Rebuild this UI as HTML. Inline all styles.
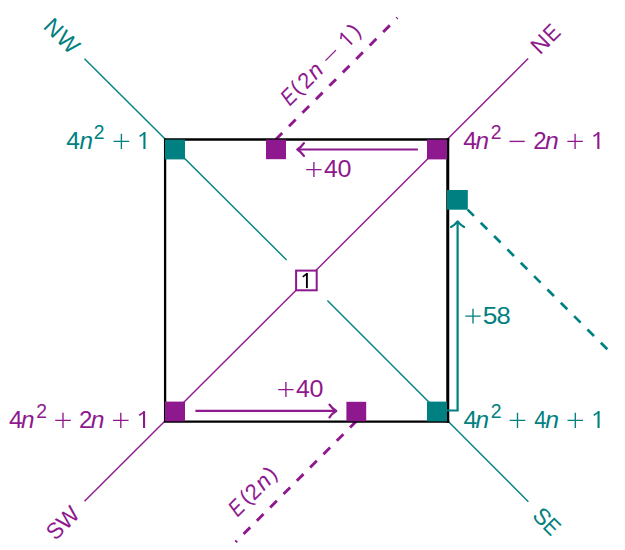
<!DOCTYPE html>
<html><head><meta charset="utf-8">
<style>
html,body{margin:0;padding:0;background:#fff;width:625px;height:550px;overflow:hidden}
svg{display:block}
text{font-family:"Liberation Sans",sans-serif}
</style></head><body>
<svg width="625" height="550" viewBox="0 0 625 550">
<!-- dashed lines -->
<path d="M276 139.2 L397.4 17.8" stroke="#8e198e" stroke-width="2.9" stroke-dasharray="9.4 9.62" stroke-dashoffset="0.6" fill="none"/>
<path d="M356.3 421.3 L235.6 542" stroke="#8e198e" stroke-width="2.9" stroke-dasharray="9.4 9.43" stroke-dashoffset="0.6" fill="none"/>
<path d="M467.6 209.6 L609 351" stroke="#008080" stroke-width="2.7" stroke-dasharray="9.2 9.67" stroke-dashoffset="0.3" fill="none"/>

<!-- diagonals -->
<line x1="84.5" y1="58.7" x2="286.6" y2="260" stroke="#008080" stroke-width="1.4"/>
<line x1="327.4" y1="300.5" x2="528.4" y2="501.7" stroke="#008080" stroke-width="1.4"/>
<line x1="84.5" y1="501.3" x2="528.2" y2="58.6" stroke="#8e198e" stroke-width="1.4"/>

<!-- square -->
<path d="M163.95 139.5H449.25M163.95 421.6H449.25M165.1 138.35V422.75" stroke="#000" stroke-width="2.3" fill="none"/>
<path d="M447.75 138.35V422.75" stroke="#000" stroke-width="3" fill="none"/>

<!-- markers -->
<rect x="165" y="139.6" width="20" height="19.8" fill="#008080"/>
<rect x="427" y="139.6" width="20" height="19.8" fill="#8e198e"/>
<rect x="165" y="401.6" width="20" height="19.7" fill="#8e198e"/>
<rect x="427" y="401.6" width="20" height="19.7" fill="#008080"/>
<rect x="266" y="139.6" width="20" height="19.6" fill="#8e198e"/>
<rect x="346.4" y="401.8" width="19.8" height="19.5" fill="#8e198e"/>
<rect x="447" y="190" width="20.8" height="19.7" fill="#008080"/>

<!-- center box -->
<rect x="296.1" y="270.6" width="20.6" height="19.7" fill="#fff" stroke="#8e198e" stroke-width="2"/>
<path d="M306.9 273V288.1" stroke="#000" stroke-width="1.9" fill="none"/><path d="M302.8 276.9L307.2 273.4" stroke="#000" stroke-width="1.6" fill="none"/>

<!-- arrows -->
<path d="M417.9 149.5 H298" stroke="#8e198e" stroke-width="2.2" fill="none"/>
<path d="M303.9 143.1 Q301.2 147.2 297.3 149.5 Q301.2 151.8 303.9 155.9" stroke="#8e198e" stroke-width="2.3" stroke-linecap="round" stroke-linejoin="round" fill="none"/>
<path d="M195.4 410.9 H335" stroke="#8e198e" stroke-width="2.2" fill="none"/>
<path d="M329.5 404.6 Q332.2 408.7 336.3 410.9 Q332.2 413.1 329.5 417.3" stroke="#8e198e" stroke-width="2.3" stroke-linecap="round" stroke-linejoin="round" fill="none"/>
<path d="M447 410.5 H457.6 V223" stroke="#008080" stroke-width="2.2" fill="none"/>
<path d="M451.1 226.9 Q455.3 224.7 457.6 221.4 Q459.9 224.7 464.1 226.9" stroke="#008080" stroke-width="2.3" stroke-linecap="round" stroke-linejoin="round" fill="none"/>

<text transform="translate(66.90 149.00) scale(1.004 1)" x="-0.56" font-size="24.5" fill="#008080">4</text>
<text transform="translate(79.90 149.00) scale(0.991 1)" x="-0.41" font-size="24.5" fill="#008080" font-style="italic">n</text>
<text transform="translate(94.70 138.90) scale(0.966 1)" x="-1.01" font-size="20" fill="#008080">2</text>
<path d="M113.60 141.40H129.20M121.40 133.80V149.00" stroke="#008080" stroke-width="1.35" fill="none"/>
<path d="M144.45 132.20V149.00" stroke="#008080" stroke-width="2.1" fill="none"/>
<path d="M139.60 136.40L145.08 132.60" stroke="#008080" stroke-width="1.68" fill="none"/>
<text transform="translate(463.80 149.00) scale(1.004 1)" x="-0.56" font-size="24.5" fill="#8e198e">4</text>
<text transform="translate(475.80 149.00) scale(0.991 1)" x="-0.41" font-size="24.5" fill="#8e198e" font-style="italic">n</text>
<text transform="translate(491.60 138.90) scale(0.966 1)" x="-1.01" font-size="20" fill="#8e198e">2</text>
<path d="M509.50 141.40H524.80" stroke="#8e198e" stroke-width="1.35" fill="none"/>
<text transform="translate(534.50 149.00) scale(0.986 1)" x="-1.23" font-size="24.5" fill="#8e198e">2</text>
<text transform="translate(545.40 149.00) scale(1.008 1)" x="-0.41" font-size="24.5" fill="#8e198e" font-style="italic">n</text>
<path d="M567.30 141.40H582.90M575.10 133.80V149.00" stroke="#8e198e" stroke-width="1.35" fill="none"/>
<path d="M598.35 132.20V149.00" stroke="#8e198e" stroke-width="2.1" fill="none"/>
<path d="M593.50 136.40L598.98 132.60" stroke="#8e198e" stroke-width="1.68" fill="none"/>
<text transform="translate(9.50 428.00) scale(1.004 1)" x="-0.56" font-size="24.5" fill="#8e198e">4</text>
<text transform="translate(21.50 428.00) scale(0.991 1)" x="-0.41" font-size="24.5" fill="#8e198e" font-style="italic">n</text>
<text transform="translate(37.30 417.90) scale(0.966 1)" x="-1.01" font-size="20" fill="#8e198e">2</text>
<path d="M55.20 420.40H70.80M63.00 412.80V428.00" stroke="#8e198e" stroke-width="1.35" fill="none"/>
<text transform="translate(80.20 428.00) scale(0.986 1)" x="-1.23" font-size="24.5" fill="#8e198e">2</text>
<text transform="translate(91.10 428.00) scale(1.008 1)" x="-0.41" font-size="24.5" fill="#8e198e" font-style="italic">n</text>
<path d="M113.00 420.40H128.60M120.80 412.80V428.00" stroke="#8e198e" stroke-width="1.35" fill="none"/>
<path d="M144.05 411.20V428.00" stroke="#8e198e" stroke-width="2.1" fill="none"/>
<path d="M139.20 415.40L144.68 411.60" stroke="#8e198e" stroke-width="1.68" fill="none"/>
<text transform="translate(464.00 428.00) scale(1.004 1)" x="-0.56" font-size="24.5" fill="#008080">4</text>
<text transform="translate(476.00 428.00) scale(0.991 1)" x="-0.41" font-size="24.5" fill="#008080" font-style="italic">n</text>
<text transform="translate(491.80 417.90) scale(0.966 1)" x="-1.01" font-size="20" fill="#008080">2</text>
<path d="M509.70 420.40H525.30M517.50 412.80V428.00" stroke="#008080" stroke-width="1.35" fill="none"/>
<text transform="translate(534.70 428.00) scale(0.891 1)" x="-0.56" font-size="24.5" fill="#008080">4</text>
<text transform="translate(545.60 428.00) scale(1.008 1)" x="-0.41" font-size="24.5" fill="#008080" font-style="italic">n</text>
<path d="M567.50 420.40H583.10M575.30 412.80V428.00" stroke="#008080" stroke-width="1.35" fill="none"/>
<path d="M598.55 411.20V428.00" stroke="#008080" stroke-width="2.1" fill="none"/>
<path d="M593.70 415.40L599.18 411.60" stroke="#008080" stroke-width="1.68" fill="none"/>
<path d="M306.20 169.55H321.60M313.90 162.10V177.00" stroke="#8e198e" stroke-width="1.35" fill="none"/>
<text transform="translate(324.60 177.00) scale(1.012 1)" x="-0.56" font-size="24.5" fill="#8e198e">4</text>
<text transform="translate(338.40 177.00) scale(1.025 1)" x="-0.96" font-size="24.5" fill="#8e198e">0</text>
<path d="M278.20 389.55H293.60M285.90 382.10V397.00" stroke="#8e198e" stroke-width="1.35" fill="none"/>
<text transform="translate(296.60 397.00) scale(1.012 1)" x="-0.56" font-size="24.5" fill="#8e198e">4</text>
<text transform="translate(310.40 397.00) scale(1.025 1)" x="-0.96" font-size="24.5" fill="#8e198e">0</text>
<path d="M465.30 316.15H480.70M473.00 308.70V323.60" stroke="#008080" stroke-width="1.35" fill="none"/>
<text transform="translate(483.70 323.60) scale(1.076 1)" x="-0.98" font-size="24.5" fill="#008080">5</text>
<text transform="translate(497.50 323.60) scale(1.044 1)" x="-1.06" font-size="24.5" fill="#008080">8</text>
<g transform="rotate(-45)"><text transform="translate(130.00 280.30) scale(0.822 1)" x="-0.71" font-size="23" fill="#8e198e" font-style="italic">E</text><text x="143.47" y="279.00" font-size="21.5" fill="#8e198e">(</text><text x="153.19" y="280.30" font-size="22" fill="#8e198e">2</text><text x="166.42" y="280.30" font-size="23" fill="#8e198e" font-style="italic">n</text><path d="M187.3 273H202.1" stroke="#8e198e" stroke-width="1.3" fill="none"/><path d="M217.65 264.50V280.30" stroke="#8e198e" stroke-width="1.9" fill="none"/><path d="M213.30 268.70L218.22 264.90" stroke="#8e198e" stroke-width="1.52" fill="none"/><text x="225.87" y="279.00" font-size="21.5" fill="#8e198e">)</text><text transform="translate(-197.60 534.00) scale(0.822 1)" x="-0.71" font-size="23" fill="#8e198e" font-style="italic">E</text><text x="-182.13" y="532.70" font-size="21.5" fill="#8e198e">(</text><text x="-174.71" y="534.00" font-size="22" fill="#8e198e">2</text><text x="-161.18" y="534.00" font-size="23" fill="#8e198e" font-style="italic">n</text><text x="-146.43" y="532.70" font-size="21.5" fill="#8e198e">)</text><text x="342.61" y="421.00" font-size="23" fill="#8e198e">N</text><text transform="translate(362.00 421.00) scale(0.866 1)" x="-1.89" font-size="23" fill="#8e198e">E</text><text transform="translate(-342.60 422.00) scale(0.952 1)" x="-1.04" font-size="23" fill="#8e198e">S</text><text x="-329.10" y="422.00" font-size="23" fill="#8e198e">W</text></g>
<g transform="rotate(45)"><text x="49.41" y="-10.50" font-size="23" fill="#008080">N</text><text x="67.20" y="-10.50" font-size="23" fill="#008080">W</text><text x="740.96" y="-10.20" font-size="23" fill="#008080">S</text><text transform="translate(757.70 -10.20) scale(0.866 1)" x="-1.89" font-size="23" fill="#008080">E</text></g>
</svg>
</body></html>
